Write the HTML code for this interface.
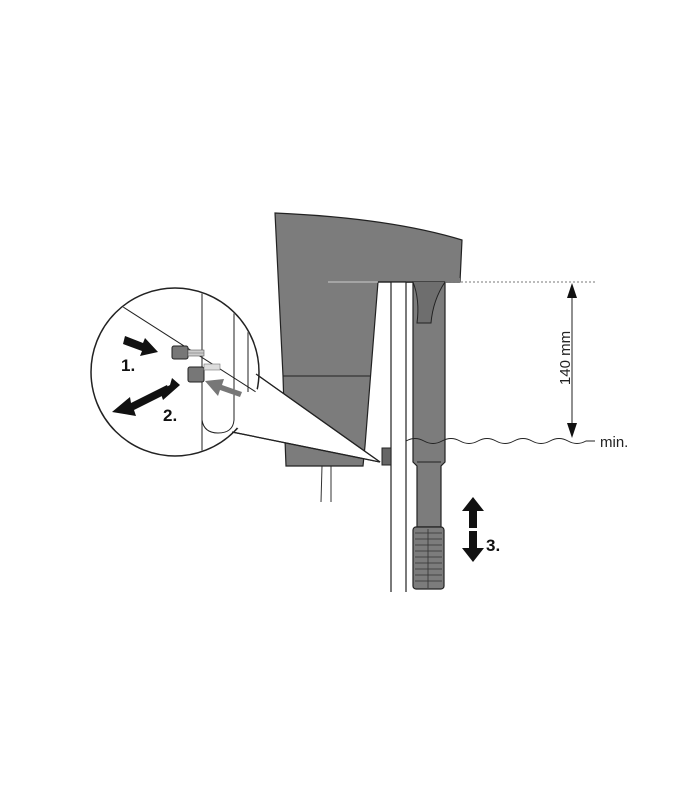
<!DOCTYPE html>
<html><head><meta charset="utf-8"><style>
html,body{margin:0;padding:0;background:#fff;}
svg{display:block;}
text{font-family:"Liberation Sans",Arial,sans-serif;}
</style></head><body>
<svg width="700" height="800" viewBox="0 0 700 800" xmlns="http://www.w3.org/2000/svg">
<defs><clipPath id="cc"><circle cx="175" cy="372" r="83"/></clipPath></defs>
<line x1="322" y1="466" x2="321" y2="502" stroke="#333" stroke-width="1"/>
<line x1="331" y1="466" x2="331" y2="502" stroke="#333" stroke-width="1"/>
<path d="M275,213 Q390,218 462,240 L460,282 L378,282 L365,446 L363,466 L286,466 L285,440 L283,376 Z" fill="#7c7c7c" stroke="#222" stroke-width="1.2"/>
<line x1="283" y1="376" x2="371" y2="376" stroke="#222" stroke-width="1"/>
<path d="M328,282 L378,282" stroke="#ccc" stroke-width="1"/>
<rect x="406" y="278" width="54" height="5" fill="#7c7c7c"/>
<path d="M413,282 L445,282 L445,462 L441,466 L441,527 L417,527 L417,466 L413,462 Z" fill="#7c7c7c" stroke="#222" stroke-width="1.2"/>
<path d="M413,282 Q420,300 417,323 L431,323 Q433,300 445,282" fill="#6e6e6e" stroke="#222" stroke-width="1"/>
<line x1="417" y1="462" x2="441" y2="462" stroke="#222" stroke-width="1"/>
<rect x="413" y="527" width="31" height="62" rx="3" fill="#7c7c7c" stroke="#222" stroke-width="1.2"/>
<g stroke="#333" stroke-width="0.8">
<line x1="428" y1="529" x2="428" y2="588"/>
<line x1="415" y1="533" x2="442" y2="533"/><line x1="415" y1="539" x2="442" y2="539"/>
<line x1="415" y1="545" x2="442" y2="545"/><line x1="415" y1="551" x2="442" y2="551"/>
<line x1="415" y1="557" x2="442" y2="557"/><line x1="415" y1="563" x2="442" y2="563"/>
<line x1="415" y1="569" x2="442" y2="569"/><line x1="415" y1="575" x2="442" y2="575"/>
<line x1="415" y1="581" x2="442" y2="581"/>
</g>
<rect x="391" y="282" width="15" height="310" fill="#fff"/>
<line x1="391" y1="282" x2="391" y2="592" stroke="#222" stroke-width="1.2"/>
<line x1="406" y1="282" x2="406" y2="592" stroke="#222" stroke-width="1.2"/>
<line x1="378" y1="282" x2="413" y2="282" stroke="#222" stroke-width="1.2"/>
<rect x="382" y="448" width="9" height="17" fill="#666" stroke="#222"/>
<path d="M406,441 Q415,436 424,441 T442,441 T460,441 T478,441 T496,441 T514,441 T532,441 T550,441 T568,441 T586,441 L595,441" fill="none" stroke="#222" stroke-width="1"/>
<text x="600" y="447" font-size="15" fill="#222">min.</text>
<line x1="445" y1="282" x2="596" y2="282" stroke="#777" stroke-width="1" stroke-dasharray="2,2"/>
<line x1="572" y1="290" x2="572" y2="430" stroke="#222" stroke-width="1"/>
<polygon points="572,283 567,298 577,298" fill="#111"/>
<polygon points="572,438 567,423 577,423" fill="#111"/>
<text transform="translate(570,358) rotate(-90)" text-anchor="middle" font-size="15" fill="#222">140 mm</text>
<polygon points="473,497 462,511 469,511 469,528 477,528 477,511 484,511" fill="#111"/>
<polygon points="473,562 462,548 469,548 469,531 477,531 477,548 484,548" fill="#111"/>
<text x="486" y="551" font-size="17" font-weight="bold" fill="#111">3.</text>
<polygon points="256,374 380,462 232,432" fill="#fff" stroke="#222" stroke-width="1.2"/>
<circle cx="175" cy="372" r="84" fill="#fff" stroke="#222" stroke-width="1.5"/>
<polygon points="250,385 380,462 237,428" fill="#fff"/>
<line x1="256" y1="374" x2="380" y2="462" stroke="#222" stroke-width="1.2"/>
<line x1="232" y1="432" x2="380" y2="462" stroke="#222" stroke-width="1.2"/>
<g clip-path="url(#cc)">
<g stroke="#222" stroke-width="1" fill="none">
<path d="M120,305 L256,392"/>
<path d="M202,285 L202,460"/>
<path d="M202,420 Q204,433 218,433 Q233,433 234,420 L234,285"/>
<path d="M248,300 L248,392"/>
</g>
<rect x="172" y="346" width="16" height="13" rx="2" fill="#777" stroke="#222"/>
<rect x="188" y="350" width="16" height="6" fill="#ccc" stroke="#555" stroke-width="0.6"/>
<line x1="188" y1="353" x2="204" y2="353" stroke="#666" stroke-width="0.6"/>
<rect x="188" y="367" width="16" height="15" rx="2" fill="#777" stroke="#222"/>
<rect x="204" y="364" width="16" height="6" fill="#ddd" stroke="#777" stroke-width="0.6"/>
<polygon points="125,336 143,343 145,338 158,352 140,356 142,351 123,344" fill="#111"/>
<polygon points="240,397 220,390 218,396 205,381 224,379 222,385 242,392" fill="#777"/>
<polygon points="112,412 130,397 131,403 167,385 170,392 134,410 136,416" fill="#111"/>
<polygon points="180,385 163,400 161,394 157,392 170,385 172,378" fill="#111"/>
</g>
<text x="121" y="371" font-size="17" font-weight="bold" fill="#111">1.</text>
<text x="163" y="421" font-size="17" font-weight="bold" fill="#111">2.</text>
</svg>
</body></html>
